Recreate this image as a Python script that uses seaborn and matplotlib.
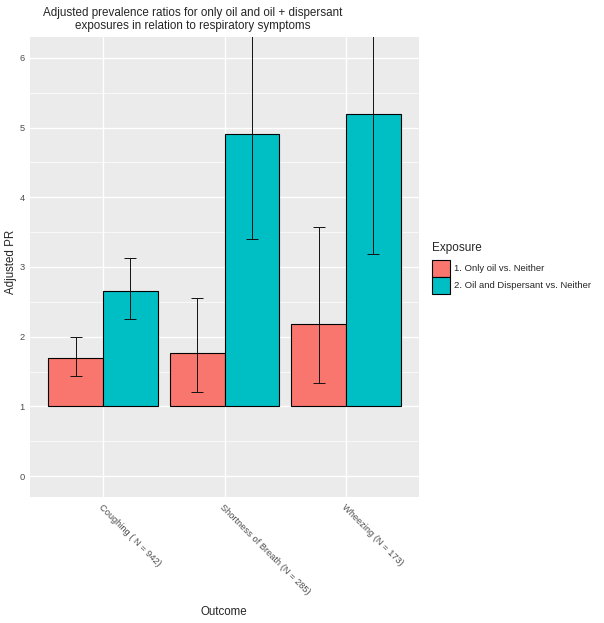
import matplotlib
matplotlib.use("Agg")
import matplotlib.pyplot as plt
import seaborn as sns
import pandas as pd
import numpy as np
from matplotlib.patches import Patch

outcomes = ["Coughing ( N = 942)", "Shortness of Breath (N = 285)", "Wheezing (N = 173)"]
exposures = ["1. Only oil vs. Neither", "2. Oil and Dispersant vs. Neither"]
pr_oil = [1.70, 1.76, 2.18]
pr_disp = [2.65, 4.91, 5.20]
lo_oil = [1.43, 1.20, 1.33]
hi_oil = [2.00, 2.56, 3.57]
lo_disp = [2.25, 3.40, 3.19]
hi_disp = [3.13, 8.50, 9.00]
colors = ["#F8766D", "#00BFC4"]
baseline = 1.0

rows = []
for i, o in enumerate(outcomes):
    rows.append(dict(Outcome=o, Exposure=exposures[0], PR=pr_oil[i], lo=lo_oil[i], hi=hi_oil[i]))
    rows.append(dict(Outcome=o, Exposure=exposures[1], PR=pr_disp[i], lo=lo_disp[i], hi=hi_disp[i]))
df = pd.DataFrame(rows)
df["height"] = df["PR"] - baseline

sns.set_theme(style="darkgrid")
plt.rcParams["font.family"] = ["Liberation Sans", "DejaVu Sans"]

fig = plt.figure(figsize=(6.04, 6.23), dpi=100)
ax = fig.add_axes([30/604, 1-497/623, (419-30)/604, (497-37)/623])
ax.set_facecolor("#EBEBEB")

sns.barplot(data=df, x="Outcome", y="height", hue="Exposure", order=outcomes,
            hue_order=exposures, palette=colors, width=0.9, bottom=baseline,
            edgecolor="black", linewidth=0.8, errorbar=None, saturation=1,
            legend=False, ax=ax, zorder=3)

w = 0.45
for j, e in enumerate(exposures):
    sub = df[df["Exposure"] == e].set_index("Outcome").loc[outcomes]
    xs = np.arange(len(outcomes)) + (j - 0.5) * w
    ax.errorbar(xs, sub["PR"], yerr=[sub["PR"] - sub["lo"], sub["hi"] - sub["PR"]],
                fmt="none", ecolor="#111111", elinewidth=0.7, capsize=4.4, capthick=0.7, zorder=4)

ax.set_ylim(-0.3, 6.3)
ax.set_xlim(-0.6, 2.6)
ax.set_yticks([0, 1, 2, 3, 4, 5, 6])
ax.set_yticks([0.5, 1.5, 2.5, 3.5, 4.5, 5.5], minor=True)
ax.grid(which="major", color="white", linewidth=1.0, zorder=0)
ax.grid(which="minor", axis="y", color="white", linewidth=0.5, zorder=0)
ax.set_axisbelow(True)
for s in ax.spines.values():
    s.set_visible(False)
ax.tick_params(axis="both", which="major", length=2.5, width=0.6, color="#333333",
               labelsize=6.7, labelcolor="#4D4D4D", pad=1.5)
ax.tick_params(axis="both", which="minor", length=0)
ax.set_xticks(range(len(outcomes)))
ax.set_xticklabels(outcomes, rotation=-45, ha="left", va="top", rotation_mode="anchor")
ax.set_xlabel("Outcome", fontsize=8.3)
ax.set_ylabel("Adjusted PR", fontsize=8.3)
ax.xaxis.set_label_coords((224-30)/389, -(606-497)/460)
ax.yaxis.set_label_coords((17-30)/389, (497-262)/460)

fig.text(193/604, 1-7/623,
         "Adjusted prevalence ratios for only oil and oil + dispersant\nexposures in relation to respiratory symptoms",
         ha="center", va="top", multialignment="center", fontsize=8.4, linespacing=1.1)

handles = [Patch(facecolor=c, edgecolor="black", linewidth=0.8) for c in colors]
leg = fig.legend(handles, exposures, title="Exposure", loc="upper left",
                 bbox_to_anchor=(432/604, 1-242/623), frameon=False, fontsize=6.8,
                 title_fontsize=8.5, handlelength=1.95, handleheight=2.4,
                 handletextpad=0.35, labelspacing=0.0, borderaxespad=0, borderpad=0)
leg._legend_box.align = "left"
leg._legend_box.sep = 4

fig.savefig("out.png", dpi=100)
